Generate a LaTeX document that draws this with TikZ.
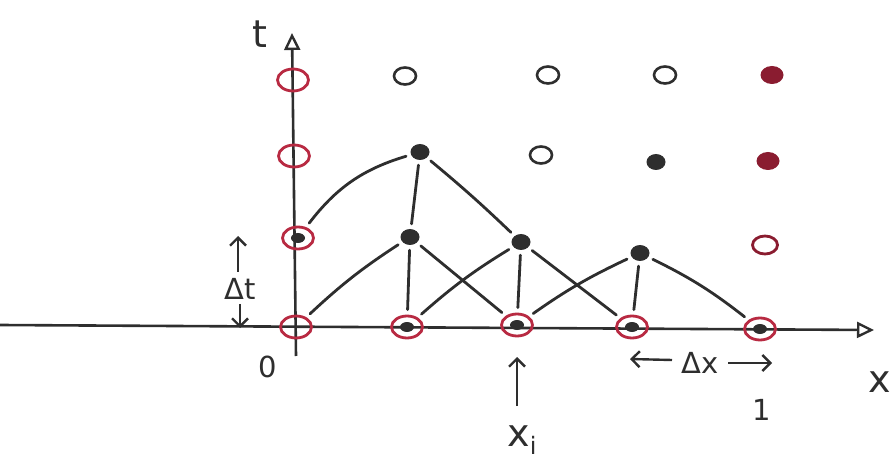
\documentclass[tikz,border=0pt]{standalone}
\usepackage{fontspec}
\setmainfont{DejaVu Sans}
\usetikzlibrary{arrows.meta,shapes.geometric}
\definecolor{ink}{HTML}{2E2E2E}
\definecolor{rring}{HTML}{B82A42}
\definecolor{rfill}{HTML}{8A1C30}
\begin{document}
\begin{tikzpicture}[x=1pt,y=-1pt,
  ringr/.style={ellipse,draw=rring,line width=2.8pt,minimum width=31pt,minimum height=22pt,inner sep=0pt},
  ringdot/.style={ringr,path picture={\fill[ink] (path picture bounding box.center) ellipse (7pt and 5pt);}},
  bfill/.style={ellipse,fill=ink,minimum width=19pt,minimum height=16pt,inner sep=0pt},
  bopen/.style={ellipse,draw=ink,line width=2.6pt,minimum width=22pt,minimum height=17pt,inner sep=0pt},
  rfilled/.style={ellipse,fill=rfill,minimum width=23pt,minimum height=18pt,inner sep=0pt},
  ropen/.style={ellipse,draw=rfill,line width=2.8pt,minimum width=25pt,minimum height=18pt,inner sep=0pt},
  conn/.style={draw=ink,line width=2.8pt,line cap=round,shorten <=5pt,shorten >=5pt},
  axis/.style={draw=ink,line width=2.6pt,-{Triangle[open,length=17pt,width=16pt,line width=2.4pt]}},
  ann/.style={draw=ink,line width=2.4pt,-{Straight Barb[length=8pt,width=16pt,line width=2.4pt]}},
  lbl/.style={text=ink,inner sep=0pt,font=\fontsize{38}{42}\selectfont},
  lbls/.style={text=ink,inner sep=0pt,font=\fontsize{29}{32}\selectfont}
]
\useasboundingbox (0,0) rectangle (894,470);
% axes
\coordinate (xs) at (0,325);
\coordinate (xe) at (874,330);
\coordinate (ts) at (296,356);
\coordinate (te) at (292,33);
\draw[axis] (xs) -- (xe);
\draw[axis] (ts) -- (te);
% grid nodes
\node[ringr]   (n00) at (296,327) {};
\node[ringdot] (n10) at (407,327) {};
\node[ringdot] (n20) at (517,325) {};
\node[ringdot] (n30) at (632,327) {};
\node[ringdot] (n40) at (760,329) {};
\node[ringdot] (n01) at (298,238) {};
\node[bfill]   (n11) at (410,237) {};
\node[bfill]   (n21) at (521,242) {};
\node[bfill]   (n31) at (640,253) {};
\node[ropen]   (n41) at (765,245) {};
\node[ringr]   (n02) at (294,156) {};
\node[bfill]   (n12) at (420,152) {};
\node[bopen]   (n22) at (541,155) {};
\node[bfill]   (n32) at (656,162) {};
\node[rfilled] (n42) at (768,161) {};
\node[ringr]   (n03) at (293,80) {};
\node[bopen]   (n13) at (405,76) {};
\node[bopen]   (n23) at (548,75) {};
\node[bopen]   (n33) at (665,75) {};
\node[rfilled] (n43) at (772,75) {};
% connectors
\draw[conn] (n00) to[bend left=5] (n11);
\draw[conn] (n10) -- (n11);
\draw[conn] (n11) -- (n20);
\draw[conn] (n10) to[bend left=5] (n21);
\draw[conn] (n20) -- (n21);
\draw[conn] (n20) to[bend left=5] (n31);
\draw[conn] (n21) -- (n30);
\draw[conn] (n30) -- (n31);
\draw[conn] (n31) to[bend left=6] (n40);
\draw[conn] (n01) to[bend left=18] (n12);
\draw[conn] (n12) -- (n11);
\draw[conn] (n12) to[bend left=2] (n21);
% labels
\node[lbl] (tl) at (260,34) {t};
\node[lbl] (xl) at (880,382) {x};
\node[lbls] (zero) at (268,367) {0};
\node[lbls] (dt) at (240,289) {Δt};
\coordinate (dtu1) at (238,272);
\coordinate (dtu2) at (238,236);
\coordinate (dtd1) at (240,304);
\coordinate (dtd2) at (240,328);
\draw[ann] (dtu1) -- (dtu2);
\draw[ann] (dtd1) -- (dtd2);
\node[lbl] (xi) at (522,440) {x\raisebox{-8pt}{\fontsize{24}{26}\selectfont i}};
\coordinate (xia) at (517,406);
\coordinate (xib) at (517,357);
\draw[ann] (xia) -- (xib);
\node[lbls] (dx) at (700,363) {Δx};
\coordinate (dxl1) at (672,360);
\coordinate (dxl2) at (630,359);
\coordinate (dxr1) at (728,363);
\coordinate (dxr2) at (772,363);
\draw[ann] (dxl1) -- (dxl2);
\draw[ann] (dxr1) -- (dxr2);
\node[lbls] (one) at (762,410) {1};
\end{tikzpicture}
\end{document}
